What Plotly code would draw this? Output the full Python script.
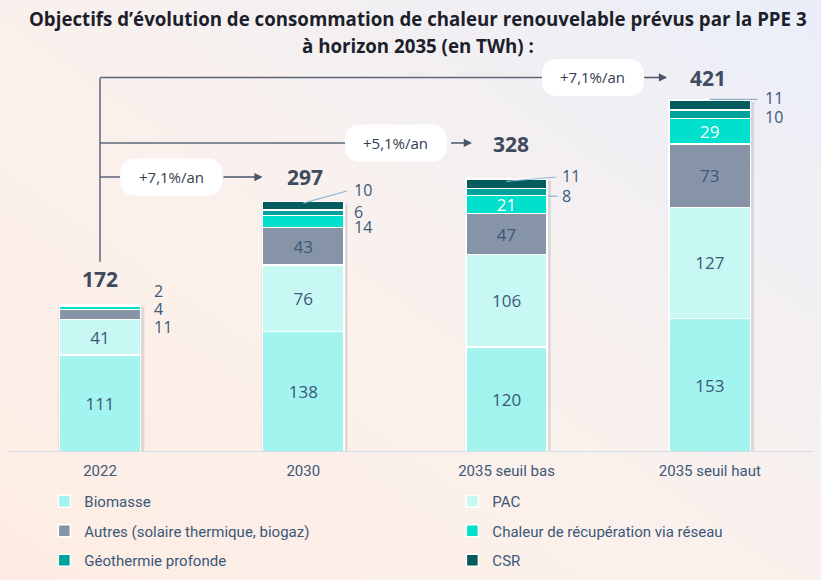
import base64

import plotly.graph_objects as go

categories = ['2022', '2030', '2035 seuil bas', '2035 seuil haut']
totals = [172, 297, 328, 421]
growth = ['+7,1%/an', '+5,1%/an', '+7,1%/an']  # 2022 -> 2030, 2035 bas, 2035 haut

biomasse = [111, 138, 120, 153]
pac = [41, 76, 106, 127]
autres = [11, 43, 47, 73]
chaleur = [4, 14, 21, 29]
geothermie = [2, 6, 8, 10]
csr = [0, 10, 11, 11]

series = [
    ('Biomasse', biomasse, '#a3f3ef'),
    ('PAC', pac, '#c8f8f4'),
    ('Autres (solaire thermique, biogaz)', autres, '#8794a8'),
    ('Chaleur de récupération via réseau', chaleur, '#00e0cc'),
    ('Géothermie profonde', geothermie, '#00a29d'),
    ('CSR', csr, '#055c5e'),
]

TXT = '#3b5878'
DARK = '#3f4a5c'
NUM_FONT = 'Open Sans'
PX_PER_UNIT = 0.873
TOP, BOTTOM = 40, 128
H, W = 580, 821
plot_h = H - TOP - BOTTOM


def py(pix):
    # figure pixel row -> paper y
    return (H - BOTTOM - pix) / plot_h


fig = go.Figure()

# segments big enough get their value inside the bar, the others are written on the side
min_inside = 20
for k, (name, vals, color) in enumerate(series):
    text = [str(v) if v >= min_inside else '' for v in vals]
    fig.add_trace(go.Bar(
        x=categories, y=vals, name=name,
        legend='legend' if k % 2 == 0 else 'legend2', legendgroup=name,
        marker=dict(color=color, line=dict(color='white', width=1.5)),
        width=0.4,
        text=text, textposition='inside', insidetextanchor='middle',
        textangle=0, constraintext='none',
        textfont=dict(size=17, family=NUM_FONT,
                      color='white' if name.startswith('Chaleur') else TXT),
        hoverinfo='name+y',
    ))

# values written right of the bars (small segments)
side = [
    (0, geothermie[0], 184), (0, chaleur[0], 164), (0, autres[0], 143),
    (1, csr[1], 300), (1, geothermie[1], 275), (1, chaleur[1], 258),
    (2, csr[2], 316), (2, geothermie[2], 293),
    (3, csr[3], 405), (3, geothermie[3], 384),
]
side_x = [0.255, 1.24, 2.265, 3.26]
annotations = []
for i, v, y in side:
    annotations.append(dict(x=side_x[i], y=y, text=str(v), showarrow=False,
                            xanchor='left', yanchor='middle',
                            font=dict(size=16, family=NUM_FONT, color=TXT)))

leaders = [
    (1.0, 285, 1.215, 299),
    (2.0, 310, 2.245, 315),
    (2.205, 293, 2.25, 293),
    (3.0, 404, 3.235, 404),
]
shapes = []
for x0, y0, x1, y1 in leaders:
    shapes.append(dict(type='line', x0=x0, y0=y0, x1=x1, y1=y1, xref='x', yref='y',
                       line=dict(color='#8fb4d4', width=1.2)))

# soft shadow around each bar
for i in range(len(categories)):
    top = sum(s[1][i] for s in series)
    shapes.append(dict(type='rect', x0=i - 0.205, x1=i + 0.218, y0=0, y1=top - 2,
                       xref='x', yref='y', layer='below',
                       fillcolor='rgba(60,70,90,0.14)', line=dict(width=0)))

# totals
total_pos = [(0, 198), (1.01, 315), (2.02, 353), (2.99, 428)]
for t, (x, y) in zip(totals, total_pos):
    annotations.append(dict(x=x, y=y, text=f'<b>{t}</b>', showarrow=False,
                            font=dict(size=21, family=NUM_FONT, color=DARK)))

# bracket from 2022 to the three targets
shapes.append(dict(type='line', x0=0, x1=0, y0=218, y1=428, xref='x', yref='y',
                   line=dict(color='#5b6678', width=1.5)))
pills = [(0.35, 315, 0.6, 0.8), (1.456, 354, 1.72, 1.83), (2.425, 429, 2.67, 2.79)]
pw, ph, r = 102, 37, 16
pill_path = (f'M{-pw/2 + r},{-ph/2} L{pw/2 - r},{-ph/2} Q{pw/2},{-ph/2} {pw/2},{-ph/2 + r} '
             f'L{pw/2},{ph/2 - r} Q{pw/2},{ph/2} {pw/2 - r},{ph/2} L{-pw/2 + r},{ph/2} '
             f'Q{-pw/2},{ph/2} {-pw/2},{ph/2 - r} L{-pw/2},{-ph/2 + r} Q{-pw/2},{-ph/2} {-pw/2 + r},{-ph/2} Z')
for g, (cx, cy, a0, a1) in zip(growth, pills):
    shapes.append(dict(type='line', x0=0, x1=cx, y0=cy, y1=cy, xref='x', yref='y',
                       line=dict(color='#5b6678', width=1.5)))
    shapes.append(dict(type='path', path=pill_path, xref='x', yref='y',
                       xsizemode='pixel', ysizemode='pixel', xanchor=cx, yanchor=cy,
                       fillcolor='white', line=dict(width=0)))
    annotations.append(dict(x=cx, y=cy, text=g, showarrow=False,
                            font=dict(size=15, family=NUM_FONT, color='#333d4f')))
    annotations.append(dict(x=a1, y=cy, ax=a0, ay=cy, axref='x', ayref='y', text='',
                            showarrow=True, arrowhead=2, arrowsize=1.1, arrowwidth=1.5,
                            arrowcolor='#4a5568'))

# baseline
shapes.append(dict(type='line', x0=0.01, x1=0.99, y0=0, y1=0, xref='paper', yref='y',
                   line=dict(color='#d5dfea', width=2)))

# title, two lines
title_lines = ['Objectifs d’évolution de consommation de chaleur renouvelable prévus par la PPE 3',
               'à horizon 2035 (en TWh) :']
for line, pix in zip(title_lines, [19, 45]):
    annotations.append(dict(x=0.509, y=py(pix), xref='paper', yref='paper', text=f'<b>{line}</b>',
                            showarrow=False, xanchor='center', yanchor='middle',
                            font=dict(size=18.7, family='Open Sans', color='#1c1f2b')))

# soft peach -> lavender background
svg = ('<svg xmlns="http://www.w3.org/2000/svg" width="821" height="580">'
       '<defs><linearGradient id="g" x1="0" y1="1" x2="1" y2="0">'
       '<stop offset="0" stop-color="#fdece3"/><stop offset="0.45" stop-color="#fbf1ec"/>'
       '<stop offset="1" stop-color="#eaeef9"/></linearGradient></defs>'
       '<rect width="821" height="580" fill="url(#g)"/></svg>')
bg = 'data:image/svg+xml;base64,' + base64.b64encode(svg.encode()).decode()

legend_style = dict(orientation='v', xanchor='left', yanchor='top', traceorder='grouped',
                    tracegroupgap=7, itemwidth=30, bgcolor='rgba(0,0,0,0)',
                    font=dict(size=15, family='Roboto', color=TXT))

fig.update_layout(
    width=W, height=H,
    barmode='stack',
    margin=dict(l=0, r=0, t=TOP, b=BOTTOM),
    paper_bgcolor='#f9f1ee', plot_bgcolor='rgba(0,0,0,0)',
    images=[dict(source=bg, xref='paper', yref='paper', x=0, y=1 + TOP / plot_h,
                 sizex=1, sizey=H / plot_h, sizing='stretch', layer='below')],
    xaxis=dict(range=[-0.492, 3.547], showgrid=False, zeroline=False, showline=False,
               ticks='', ticklabelstandoff=8,
               tickfont=dict(size=15, family='Roboto', color=TXT)),
    yaxis=dict(range=[0, plot_h / PX_PER_UNIT], visible=False),
    legend=dict(x=0.054, y=py(485), **legend_style),
    legend2=dict(x=0.551, y=py(485), **legend_style),
    shapes=shapes,
    annotations=annotations,
    showlegend=True,
)

fig.write_html('out.html', config=dict(displayModeBar=False),
               post_script="document.body.style.margin='0';")
